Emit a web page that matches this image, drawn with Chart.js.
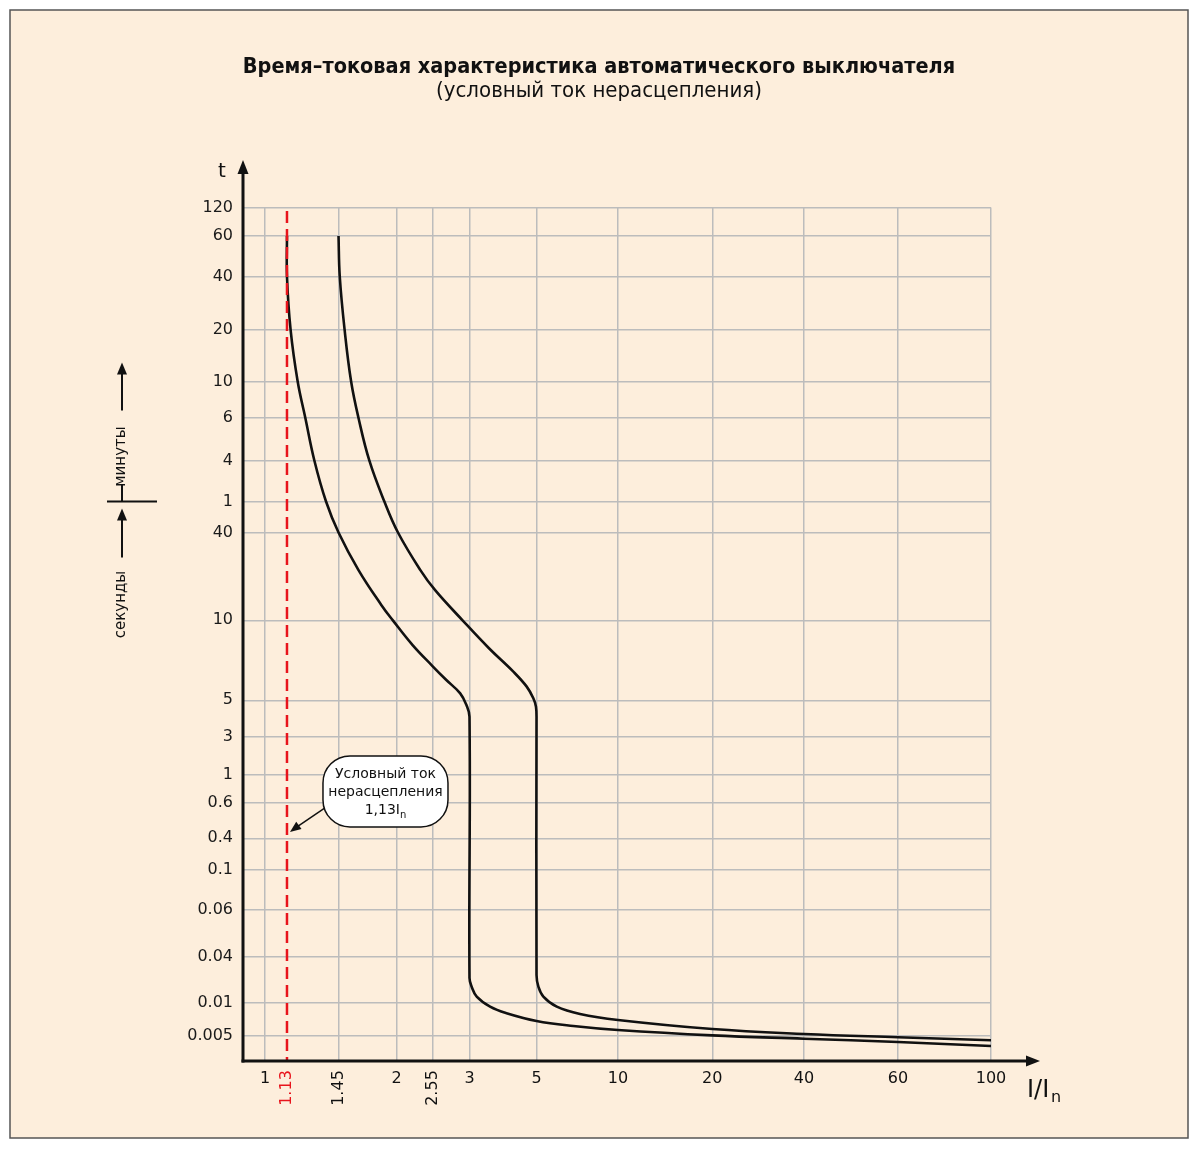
<!DOCTYPE html>
<html lang="ru">
<head>
<meta charset="utf-8">
<title>Время-токовая характеристика автоматического выключателя</title>
<script src="https://cdn.jsdelivr.net/npm/chart.js@4.4.1/dist/chart.umd.min.js"></script>
<style>
  html, body { margin: 0; padding: 0; background: #fff; }
  #wrap { width: 1200px; height: 1150px; }
</style>
</head>
<body>
<div id="wrap"><canvas id="chart" width="1200" height="1150"></canvas></div>
<script>
// ---- data
// I/In ticks along the bottom axis
const X_TICKS = [1, 1.13, 1.45, 2, 2.55, 3, 5, 10, 20, 40, 60, 100];
const X_ROTATED = [1.13, 1.45, 2.55];

// time ticks in seconds (60 s and up are labelled in minutes)
const T_TICKS = [0.005, 0.01, 0.04, 0.06, 0.1, 0.4, 0.6, 1, 3, 5, 10, 40,
  60, 240, 360, 600, 1200, 2400, 3600, 7200];

// left curve (starts at 1.13 In)
const CURVE1_X = [1.13, 1.13, 1.15, 1.19, 1.235, 1.29, 1.365, 1.45, 1.62, 1.84, 1.96,
  2.23, 2.55, 2.71, 2.88, 2.96, 3, 3, 3.05, 3.17, 3.51, 3.98, 5, 6.84, 10, 20, 40, 60, 100];
const CURVE1_T = [3600, 2400, 1200, 600, 360, 240, 60, 40, 22.1, 12.7, 10,
  8.07, 6.73, 5.96, 5.31, 4.68, 3.98, 0.0211, 0.0163, 0.0121, 0.00925, 0.00806, 0.00685,
  0.00617, 0.00567, 0.00507, 0.00453, 0.00401, 0.00347];

// right curve (starts at 1.45 In)
const CURVE2_X = [1.45, 1.46, 1.50, 1.555, 1.62, 1.72, 1.87, 2.02, 2.35, 2.58, 2.91,
  3.48, 4.19, 4.64, 4.88, 4.98, 5, 5, 5.08, 5.30, 5.94, 7.24, 10, 20, 40, 60, 100];
const CURVE2_T = [3600, 2400, 1200, 600, 360, 240, 60, 40, 22.1, 16.1, 10,
  7.85, 6.41, 5.63, 5.09, 4.57, 3.80, 0.0231, 0.0163, 0.0121, 0.00925, 0.00794,
  0.007, 0.00579, 0.00522, 0.00477, 0.00427];

// conditional non-tripping current marker
const MARK_X = 1.13;
const MARK_T = [6600, 0.002];
const NOTE_T = 0.43;

// ---- axis layout (hand drawn, non uniform): where each tick sits along its axis, 0..1
const X_MIN = 0.9;
const X_TICK_POS = [0.0294, 0.0588, 0.1277, 0.2052, 0.2533, 0.3028, 0.3924, 0.5013,
  0.6274, 0.75, 0.8757, 1];
const T_MIN = 0.002;
const T_TICK_POS = [0.0293, 0.0680, 0.1222, 0.1773, 0.2244, 0.2609, 0.3029, 0.3351,
  0.3796, 0.4226, 0.5163, 0.6192, 0.6555, 0.7036, 0.7534, 0.7961, 0.8565, 0.9192, 0.9666, 1];

const STOPS = {
  x: [[X_MIN, 0], ...X_TICKS.map((v, i) => [v, X_TICK_POS[i]])],
  y: [[T_MIN, 0], ...T_TICKS.map((v, i) => [v, T_TICK_POS[i]])]
};
const TICKS = { x: X_TICKS, y: T_TICKS };

const RED = "#e8141c";
const INK = "#111111";
const GRID = "#bcbcbc";
const PANEL_BG = "#fdeedc";
const FONT = "'DejaVu Sans', Verdana, sans-serif";
const TITLE_FONT = "'DejaVu Sans Condensed', 'DejaVu Sans', sans-serif";

// piecewise log scale between the drawn tick positions
function fracOf(stops, v) {
  if (v <= stops[0][0]) return stops[0][1];
  for (let i = 1; i < stops.length; i++) {
    const [v1, f1] = stops[i];
    if (v <= v1) {
      const [v0, f0] = stops[i - 1];
      const k = (Math.log(v) - Math.log(v0)) / (Math.log(v1) - Math.log(v0));
      return f0 + k * (f1 - f0);
    }
  }
  return stops[stops.length - 1][1];
}
function valueOf(stops, f) {
  for (let i = 1; i < stops.length; i++) {
    const [v1, f1] = stops[i];
    if (f <= f1) {
      const [v0, f0] = stops[i - 1];
      const k = (f - f0) / (f1 - f0);
      return Math.exp(Math.log(v0) + k * (Math.log(v1) - Math.log(v0)));
    }
  }
  return stops[stops.length - 1][0];
}

class StopScale extends Chart.Scale {
  determineDataLimits() {
    const s = STOPS[this.id];
    this.min = s[0][0];
    this.max = s[s.length - 1][0];
  }
  buildTicks() {
    return TICKS[this.id].map((v) => ({ value: v }));
  }
  getLabelForValue(v) { return String(v); }
  getPixelForValue(v) {
    if (v === null || !Number.isFinite(v)) return NaN;
    return this.getPixelForDecimal(fracOf(STOPS[this.id], v));
  }
  getValueForPixel(p) {
    return valueOf(STOPS[this.id], this.getDecimalForPixel(p));
  }
}
StopScale.id = "stops";
StopScale.defaults = {};
Chart.register(StopScale);

const toPoints = (xs, ts) => xs.map((x, i) => ({ x, y: ts[i] }));
const tLabel = (v) => (v >= 60 ? String(v / 60) : String(v));

// ---- drawing helpers
function arrowHead(ctx, x, y, angle, len, half) {
  ctx.save();
  ctx.translate(x, y);
  ctx.rotate(angle);
  ctx.beginPath();
  ctx.moveTo(0, 0);
  ctx.lineTo(-len, -half);
  ctx.lineTo(-len, half);
  ctx.closePath();
  ctx.fill();
  ctx.restore();
}
function line(ctx, x1, y1, x2, y2) {
  ctx.beginPath();
  ctx.moveTo(x1, y1);
  ctx.lineTo(x2, y2);
  ctx.stroke();
}
function roundRect(ctx, x, y, w, h, r) {
  ctx.beginPath();
  ctx.moveTo(x + r, y);
  ctx.arcTo(x + w, y, x + w, y + h, r);
  ctx.arcTo(x + w, y + h, x, y + h, r);
  ctx.arcTo(x, y + h, x, y, r);
  ctx.arcTo(x, y, x + w, y, r);
  ctx.closePath();
}

const panelPlugin = {
  id: "panel",
  beforeDraw(chart) {
    const { ctx, width, height } = chart;
    ctx.save();
    ctx.fillStyle = "#ffffff";
    ctx.fillRect(0, 0, width, height);
    ctx.fillStyle = PANEL_BG;
    ctx.fillRect(10, 10, 1178, 1128);
    ctx.strokeStyle = "#555";
    ctx.lineWidth = 1.5;
    ctx.strokeRect(10, 10, 1178, 1128);
    ctx.restore();
  }
};

const decorPlugin = {
  id: "decor",
  afterDraw(chart) {
    const { ctx, chartArea } = chart;
    const xs = chart.scales.x, ys = chart.scales.y;
    const L = chartArea.left, B = chartArea.bottom;
    ctx.save();

    // title
    ctx.fillStyle = INK;
    ctx.textAlign = "center";
    ctx.textBaseline = "alphabetic";
    ctx.font = `bold 21.5px ${TITLE_FONT}`;
    ctx.fillText("Время–токовая характеристика автоматического выключателя", 599, 73);
    ctx.font = `22px ${TITLE_FONT}`;
    ctx.fillText("(условный ток нерасцепления)", 599, 97);

    // axes with arrows
    ctx.strokeStyle = INK;
    ctx.lineWidth = 3;
    line(ctx, L, B + 1.5, L, 170);
    line(ctx, L - 1.5, B, 1030, B);
    arrowHead(ctx, L, 160, -Math.PI / 2, 14, 5.5);
    arrowHead(ctx, 1040, B, 0, 14, 5.5);

    // axis names
    ctx.font = `20px ${FONT}`;
    ctx.fillText("t", 222, 177);
    ctx.textAlign = "left";
    ctx.font = `24px ${FONT}`;
    ctx.fillText("I/I", 1027, 1097);
    ctx.font = `16px ${FONT}`;
    ctx.fillText("n", 1051, 1102);

    // x tick labels
    ctx.font = `16px ${FONT}`;
    ctx.textAlign = "center";
    ctx.textBaseline = "middle";
    X_TICKS.forEach((v) => {
      const px = xs.getPixelForValue(v);
      ctx.fillStyle = v === MARK_X ? RED : INK;
      if (X_ROTATED.includes(v)) {
        ctx.save();
        ctx.translate(px, 1088);
        ctx.rotate(-Math.PI / 2);
        ctx.fillText(String(v), 0, 0);
        ctx.restore();
      } else {
        ctx.fillText(String(v), px, 1079);
      }
    });

    // minutes / seconds marker on the left
    ctx.fillStyle = INK;
    const yMin = ys.getPixelForValue(60);
    ctx.lineWidth = 2;
    line(ctx, 107, yMin, 157, yMin);
    line(ctx, 122, yMin - 17, 122, yMin);
    line(ctx, 122, yMin - 91, 122, yMin - 128);
    arrowHead(ctx, 122, yMin - 139, -Math.PI / 2, 12, 5);
    line(ctx, 122, yMin + 56, 122, yMin + 18);
    arrowHead(ctx, 122, yMin + 7, -Math.PI / 2, 12, 5);
    ctx.font = `15px ${FONT}`;
    [["минуты", yMin - 45], ["секунды", yMin + 103]].forEach(([txt, cy]) => {
      ctx.save();
      ctx.translate(121, cy);
      ctx.rotate(-Math.PI / 2);
      ctx.fillText(txt, 0, 0);
      ctx.restore();
    });

    // callout for the marker
    const tx = xs.getPixelForValue(MARK_X) + 3;
    const ty = ys.getPixelForValue(NOTE_T);
    const bx = tx + 33, by = ty - 76, bw = 125, bh = 71;
    ctx.lineWidth = 1.5;
    line(ctx, bx + 2, ty - 24, tx + 7, ty - 5);
    arrowHead(ctx, tx, ty, Math.atan2(24, -33), 11, 4.5);
    roundRect(ctx, bx, by, bw, bh, 27);
    ctx.fillStyle = "#ffffff";
    ctx.fill();
    ctx.stroke();
    ctx.fillStyle = INK;
    ctx.font = `14px ${FONT}`;
    ctx.textBaseline = "alphabetic";
    const cx = bx + bw / 2;
    ctx.fillText("Условный ток", cx, by + 22);
    ctx.fillText("нерасцепления", cx, by + 40);
    const main = "1,13I";
    const wMain = ctx.measureText(main).width;
    ctx.font = `10px ${FONT}`;
    const wSub = ctx.measureText("n").width;
    const sx = cx - (wMain + wSub) / 2;
    ctx.textAlign = "left";
    ctx.fillText("n", sx + wMain, by + 62);
    ctx.font = `14px ${FONT}`;
    ctx.fillText(main, sx, by + 58);

    ctx.restore();
  }
};

new Chart(document.getElementById("chart"), {
  type: "line",
  data: {
    datasets: [
      {
        data: toPoints([MARK_X, MARK_X], MARK_T),
        borderColor: RED, borderWidth: 2.5, borderDash: [12, 6],
        pointRadius: 0, tension: 0
      },
      {
        data: toPoints(CURVE1_X, CURVE1_T),
        borderColor: INK, borderWidth: 2.6, pointRadius: 0, tension: 0.4
      },
      {
        data: toPoints(CURVE2_X, CURVE2_T),
        borderColor: INK, borderWidth: 2.6, pointRadius: 0, tension: 0.4
      }
    ]
  },
  options: {
    responsive: false,
    animation: false,
    layout: { padding: { left: 0, top: 207.5, right: 209, bottom: 39 } },
    plugins: { legend: { display: false }, tooltip: { enabled: false } },
    scales: {
      x: {
        type: "stops",
        position: "bottom",
        border: { display: false },
        grid: {
          drawTicks: false,
          lineWidth: 1.5,
          color: (c) => (c.tick && c.tick.value === MARK_X ? "rgba(0,0,0,0)" : GRID)
        },
        ticks: { display: false, autoSkip: false },
        afterFit(s) { s.height = 50; }
      },
      y: {
        type: "stops",
        position: "left",
        border: { display: false },
        grid: { drawTicks: false, lineWidth: 1.5, color: GRID },
        ticks: {
          autoSkip: false,
          padding: 10,
          color: "#1a1a1a",
          font: { family: FONT, size: 16 },
          callback: (v) => tLabel(v)
        },
        afterFit(s) { s.width = 243; }
      }
    }
  },
  plugins: [panelPlugin, decorPlugin]
});
</script>
</body>
</html>
